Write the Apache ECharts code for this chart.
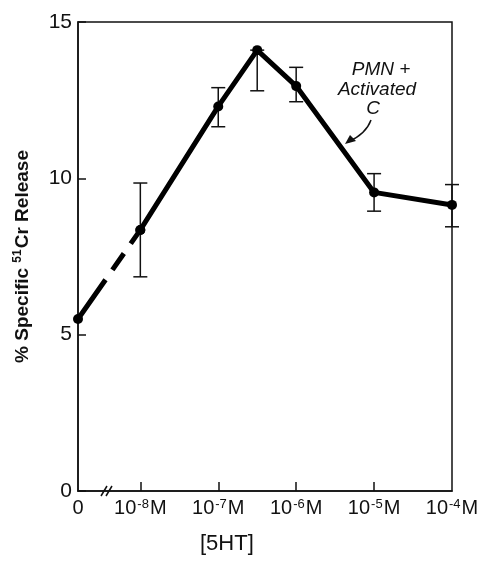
<!DOCTYPE html>
<html>
<head>
<meta charset="utf-8">
<script src="https://cdn.jsdelivr.net/npm/echarts@6/dist/echarts.min.js"></script>
<style>
  html, body { margin: 0; padding: 0; background: #fff; }
  #chart { width: 478px; height: 574px; }
</style>
</head>
<body>
<div id="chart"></div>
<script>
// log10 of [5HT]; the zero dose sits left of the axis break
const logConc = [-8.8, -8, -7, -6.5, -6, -5, -4];
const release = [5.5, 8.35, 12.3, 14.1, 12.95, 9.55, 9.15];
const errLow = [null, 6.85, 11.65, 12.8, 12.45, 8.95, 8.45];
const errHigh = [null, 9.85, 12.9, 14.1, 13.55, 10.15, 9.8];

const tickValues = [-8, -7, -6, -5];
const labelValues = [-8.8, -8, -7, -6, -5, -4];
const labelText = ['0', '10{sup|-8}M', '10{sup|-7}M', '10{sup|-6}M', '10{sup|-5}M', '10{sup|-4}M'];

const font = 'Liberation Sans';

const points = logConc.map((x, i) => [x, release[i]]);
const bars = logConc
    .map((x, i) => [x, errLow[i], errHigh[i]])
    .filter(d => d[1] !== null);

const chart = echarts.init(document.getElementById('chart'));

chart.setOption({
    animation: false,
    grid: {
        left: 78,
        right: 26,
        top: 22,
        bottom: 83,
        outerBoundsMode: 'none',
        containLabel: false,
        show: true,
        borderColor: '#111',
        borderWidth: 1.5
    },
    xAxis: {
        type: 'value',
        min: -8.8,
        max: -4,
        splitLine: { show: false },
        axisLine: { lineStyle: { color: '#111', width: 1.5 } },
        axisTick: {
            customValues: tickValues,
            inside: true,
            length: 9,
            lineStyle: { color: '#111', width: 1.5 }
        },
        axisLabel: {
            customValues: labelValues,
            margin: 7,
            color: '#111',
            fontFamily: font,
            fontSize: 20,
            formatter: v => labelText[labelValues.indexOf(v)] || '',
            rich: {
                sup: {
                    fontFamily: font,
                    fontSize: 13,
                    color: '#111',
                    verticalAlign: 'top',
                    padding: [0, 1, 8, 1]
                }
            }
        }
    },
    yAxis: {
        type: 'value',
        min: 0,
        max: 15,
        interval: 5,
        splitLine: { show: false },
        axisLine: { lineStyle: { color: '#111', width: 1.5 } },
        axisTick: {
            inside: true,
            length: 8,
            lineStyle: { color: '#111', width: 1.5 }
        },
        axisLabel: {
            margin: 6,
            color: '#111',
            fontFamily: font,
            fontSize: 21
        },
        name: '% Specific {sup|51}Cr Release',
        nameLocation: 'middle',
        nameGap: 44,
        nameTextStyle: {
            color: '#111',
            fontFamily: font,
            fontSize: 19,
            fontWeight: 'bold',
            rich: {
                sup: {
                    fontFamily: font,
                    fontSize: 12,
                    fontWeight: 'bold',
                    color: '#111',
                    padding: [0, 1, 10, 0]
                }
            }
        }
    },
    series: [
        {
            // broken segment from zero dose to 10^-8
            type: 'line',
            data: points.slice(0, 2),
            symbol: 'circle',
            symbolSize: 10,
            itemStyle: { color: '#000' },
            lineStyle: { color: '#000', width: 5, type: [48, 12, 20, 12, 40], cap: 'butt' },
            z: 3
        },
        {
            type: 'line',
            data: points.slice(1),
            symbol: 'circle',
            symbolSize: 10,
            itemStyle: { color: '#000' },
            lineStyle: { color: '#000', width: 5 },
            z: 3
        },
        {
            type: 'custom',
            data: bars,
            z: 2,
            renderItem: (params, api) => {
                const lo = api.coord([api.value(0), api.value(1)]);
                const hi = api.coord([api.value(0), api.value(2)]);
                const w = 7;
                const style = { stroke: '#111', lineWidth: 1.5 };
                return {
                    type: 'group',
                    children: [
                        { type: 'line', shape: { x1: lo[0], y1: lo[1], x2: hi[0], y2: hi[1] }, style },
                        { type: 'line', shape: { x1: lo[0] - w, y1: lo[1], x2: lo[0] + w, y2: lo[1] }, style },
                        { type: 'line', shape: { x1: hi[0] - w, y1: hi[1], x2: hi[0] + w, y2: hi[1] }, style }
                    ]
                };
            }
        }
    ],
    graphic: [
        // axis break marks
        { type: 'line', shape: { x1: 101, y1: 496, x2: 107, y2: 486 }, style: { stroke: '#111', lineWidth: 1.5 } },
        { type: 'line', shape: { x1: 106, y1: 496, x2: 112, y2: 486 }, style: { stroke: '#111', lineWidth: 1.5 } },
        {
            type: 'text', left: 200, top: 533,
            style: { text: '[5HT]', font: '22px "Liberation Sans"', fill: '#111' }
        },
        {
            type: 'text', x: 381, y: 70,
            style: { text: 'PMN +', font: 'italic 19px "Liberation Sans"', fill: '#111', align: 'center', verticalAlign: 'middle' }
        },
        {
            type: 'text', x: 377, y: 90,
            style: { text: 'Activated', font: 'italic 19px "Liberation Sans"', fill: '#111', align: 'center', verticalAlign: 'middle' }
        },
        {
            type: 'text', x: 373, y: 109,
            style: { text: 'C', font: 'italic 19px "Liberation Sans"', fill: '#111', align: 'center', verticalAlign: 'middle' }
        },
        {
            type: 'bezierCurve',
            shape: { x1: 371, y1: 120, x2: 348, y2: 142, cpx1: 366, cpy1: 134 },
            style: { stroke: '#111', lineWidth: 1.5, fill: null }
        },
        {
            type: 'polygon',
            shape: { points: [[345, 144], [356, 141], [350, 135]] },
            style: { fill: '#111' }
        }
    ]
});
</script>
</body>
</html>
